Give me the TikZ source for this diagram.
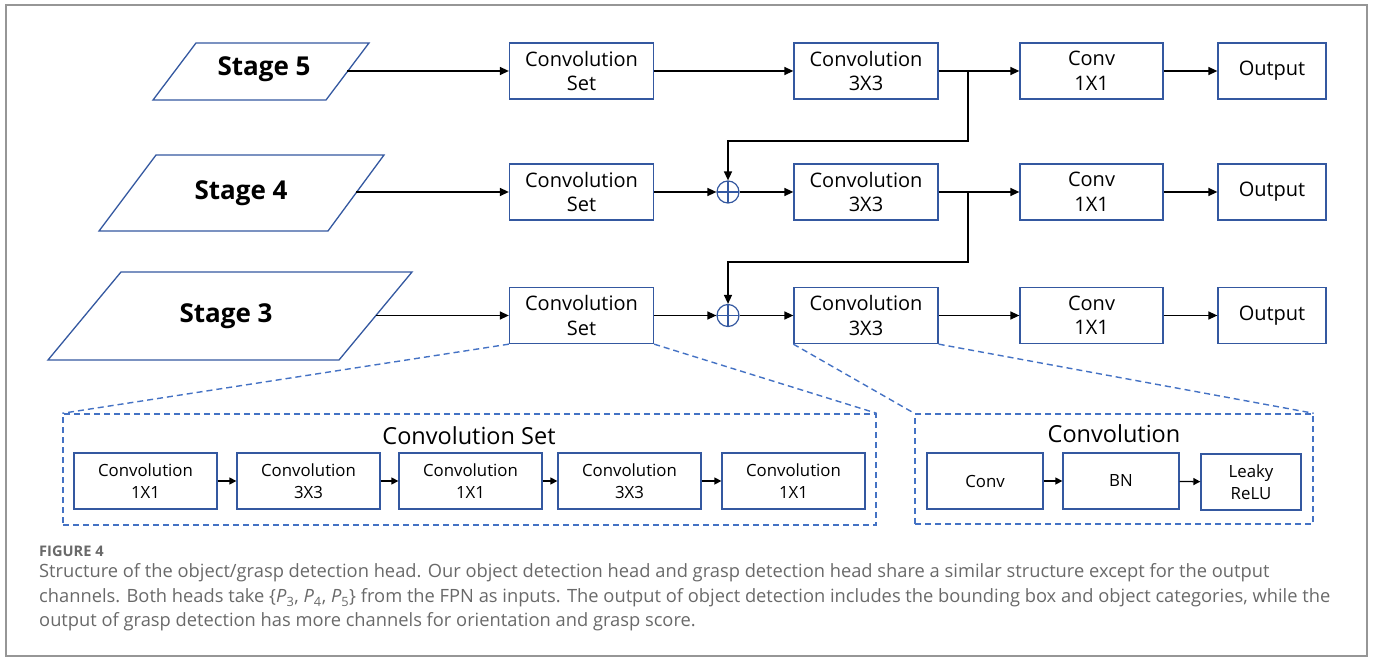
\documentclass[tikz,border=0pt]{standalone}
\usepackage{fontspec}
\setmainfont{Open Sans}
\usetikzlibrary{arrows.meta}
\definecolor{boxblue}{RGB}{52,88,160}
\definecolor{dashblue}{RGB}{68,114,196}
\definecolor{capgray}{RGB}{105,105,105}
\definecolor{framegray}{RGB}{150,150,150}
\begin{document}
\begin{tikzpicture}[x=1pt,y=-1pt,
  box/.style={draw=boxblue, line width=1.3pt, fill=white, align=center, inner sep=0pt,
    minimum height=56, font=\fontsize{20}{24.5}\selectfont},
  bigbox/.style={box, minimum width=144},
  smallbox/.style={draw=boxblue, line width=1.3pt, fill=white, align=center, inner sep=0pt,
    minimum height=56, font=\fontsize{16.8}{21.5}\selectfont},
  stagelbl/.style={font=\fontsize{26}{30}\selectfont\bfseries},
  para/.style={draw=boxblue, line width=1.3pt},
  arr/.style={line width=1.4pt, -{Triangle[length=9pt,width=8pt]}},
  sarr/.style={line width=1.4pt, -{Triangle[length=7pt,width=7pt]}},
  dashbox/.style={draw=dashblue, line width=1.4pt, dash pattern=on 6pt off 4pt, inner sep=0pt},
  dashline/.style={draw=dashblue, line width=1.4pt, dash pattern=on 6pt off 4pt},
  plus/.style={circle, draw=boxblue, line width=1.2pt, minimum size=22, inner sep=0pt,
    path picture={\draw[boxblue, line width=1.2pt]
      (path picture bounding box.north) -- (path picture bounding box.south)
      (path picture bounding box.west) -- (path picture bounding box.east);}},
  title/.style={font=\fontsize{23.5}{27}\selectfont},
  captxt/.style={anchor=west, inner sep=0pt, text=capgray, font=\fontsize{18.3}{22}\selectfont},
]
\useasboundingbox (0,0) rectangle (1375,660);
\draw[framegray, line width=1.5pt] (6,5) rectangle (1367,656);

% Stage parallelograms
\draw[para] (153,100) -- (196,43) -- (369,43) -- (326,100) -- cycle;
\node[stagelbl] (s5) at (264,69) {Stage 5};
\coordinate (s5o) at (347,71);
\draw[para] (99,231) -- (156,155) -- (384,155) -- (328,231) -- cycle;
\node[stagelbl] (s4) at (241,193) {Stage 4};
\coordinate (s4o) at (356,192);
\draw[para] (48,360) -- (121,272) -- (412,272) -- (339,360) -- cycle;
\node[stagelbl] (s3) at (226,316) {Stage 3};
\coordinate (s3o) at (375.5,315.5);

% Row 1
\node[bigbox] (cs5) at (581.5,71) {Convolution\\Set};
\node[bigbox] (c335) at (866,71) {Convolution\\3X3};
\node[bigbox, minimum width=143] (c115) at (1091.5,71) {Conv\\1X1};
\node[box, minimum width=108] (o5) at (1272,71) {Output};
% Row 2
\node[bigbox] (cs4) at (581.5,192) {Convolution\\Set};
\node[plus] (p4) at (728,192) {};
\node[bigbox] (c334) at (866,192) {Convolution\\3X3};
\node[bigbox, minimum width=143] (c114) at (1091.5,192) {Conv\\1X1};
\node[box, minimum width=108] (o4) at (1272,192) {Output};
% Row 3
\node[bigbox] (cs3) at (581.5,315.5) {Convolution\\Set};
\node[plus] (p3) at (728,315.5) {};
\node[bigbox] (c333) at (866,315.5) {Convolution\\3X3};
\node[bigbox, minimum width=143] (c113) at (1091.5,315.5) {Conv\\1X1};
\node[box, minimum width=108] (o3) at (1272,315.5) {Output};

% Row arrows
\draw[arr] (s5o) -- (cs5);
\draw[arr] (cs5) -- (c335);
\draw[arr] (c335) -- (c115);
\draw[arr] (c115) -- (o5);
\draw[arr] (s4o) -- (cs4);
\draw[arr] (cs4) -- (p4);
\draw[arr] (p4) -- (c334);
\draw[arr] (c334) -- (c114);
\draw[arr] (c114) -- (o4);
\draw[arr] (s3o) -- (cs3);
\draw[arr] (cs3) -- (p3);
\draw[arr] (p3) -- (c333);
\draw[arr] (c333) -- (c113);
\draw[arr] (c113) -- (o3);

% Branches
\coordinate (b5) at (968,71);
\coordinate (k5) at (968,141);
\draw[arr] (b5) -- (k5) -| (p4.north);
\coordinate (b4) at (968,192);
\coordinate (k4) at (968,262);
\draw[arr] (b4) -- (k4) -| (p3.north);

% Detail boxes
\node[dashbox, minimum width=813, minimum height=111] (csbox) at (469.5,469.5) {};
\node[dashbox, minimum width=398, minimum height=110] (cvbox) at (1114,469) {};
\draw[dashline] (cs3.south west) -- (csbox.north west);
\draw[dashline] (cs3.south east) -- (csbox.north east);
\draw[dashline] (c333.south west) -- (cvbox.north west);
\draw[dashline] (c333.south east) -- (cvbox.north east);

\node[title] (cst) at (469,436) {Convolution Set};
\node[smallbox, minimum width=143] (i1) at (145.5,481) {Convolution\\1X1};
\node[smallbox, minimum width=143] (i2) at (308.5,481) {Convolution\\3X3};
\node[smallbox, minimum width=143] (i3) at (470.5,481) {Convolution\\1X1};
\node[smallbox, minimum width=143] (i4) at (629.5,481) {Convolution\\3X3};
\node[smallbox, minimum width=143] (i5) at (793.5,481) {Convolution\\1X1};
\draw[sarr] (i1) -- (i2);
\draw[sarr] (i2) -- (i3);
\draw[sarr] (i3) -- (i4);
\draw[sarr] (i4) -- (i5);

\node[title] (cvt) at (1114,434) {Convolution};
\node[smallbox, minimum width=116] (j1) at (985,481) {Conv};
\node[smallbox, minimum width=116] (j2) at (1121,481) {BN};
\node[smallbox, minimum width=100] (j3) at (1251,482) {Leaky\\ReLU};
\draw[sarr] (j1) -- (j2);
\draw[sarr] (j2) -- (j3);

% Caption
\node[captxt, font=\fontsize{14.6}{17}\selectfont\bfseries] (fig) at (39,551) {FIGURE 4};
\node[captxt] (l1) at (39,573) {Structure of the object/grasp detection head. Our object detection head and grasp detection head share a similar structure except for the output};
\node[captxt] (l2) at (39,598) {channels. Both heads take \{{\itshape P}\textsubscript{3}, {\itshape P}\textsubscript{4}, {\itshape P}\textsubscript{5}\} from the FPN as inputs. The output of object detection includes the bounding box and object categories, while the};
\node[captxt] (l3) at (39,622) {output of grasp detection has more channels for orientation and grasp score.};
\end{tikzpicture}
\end{document}
